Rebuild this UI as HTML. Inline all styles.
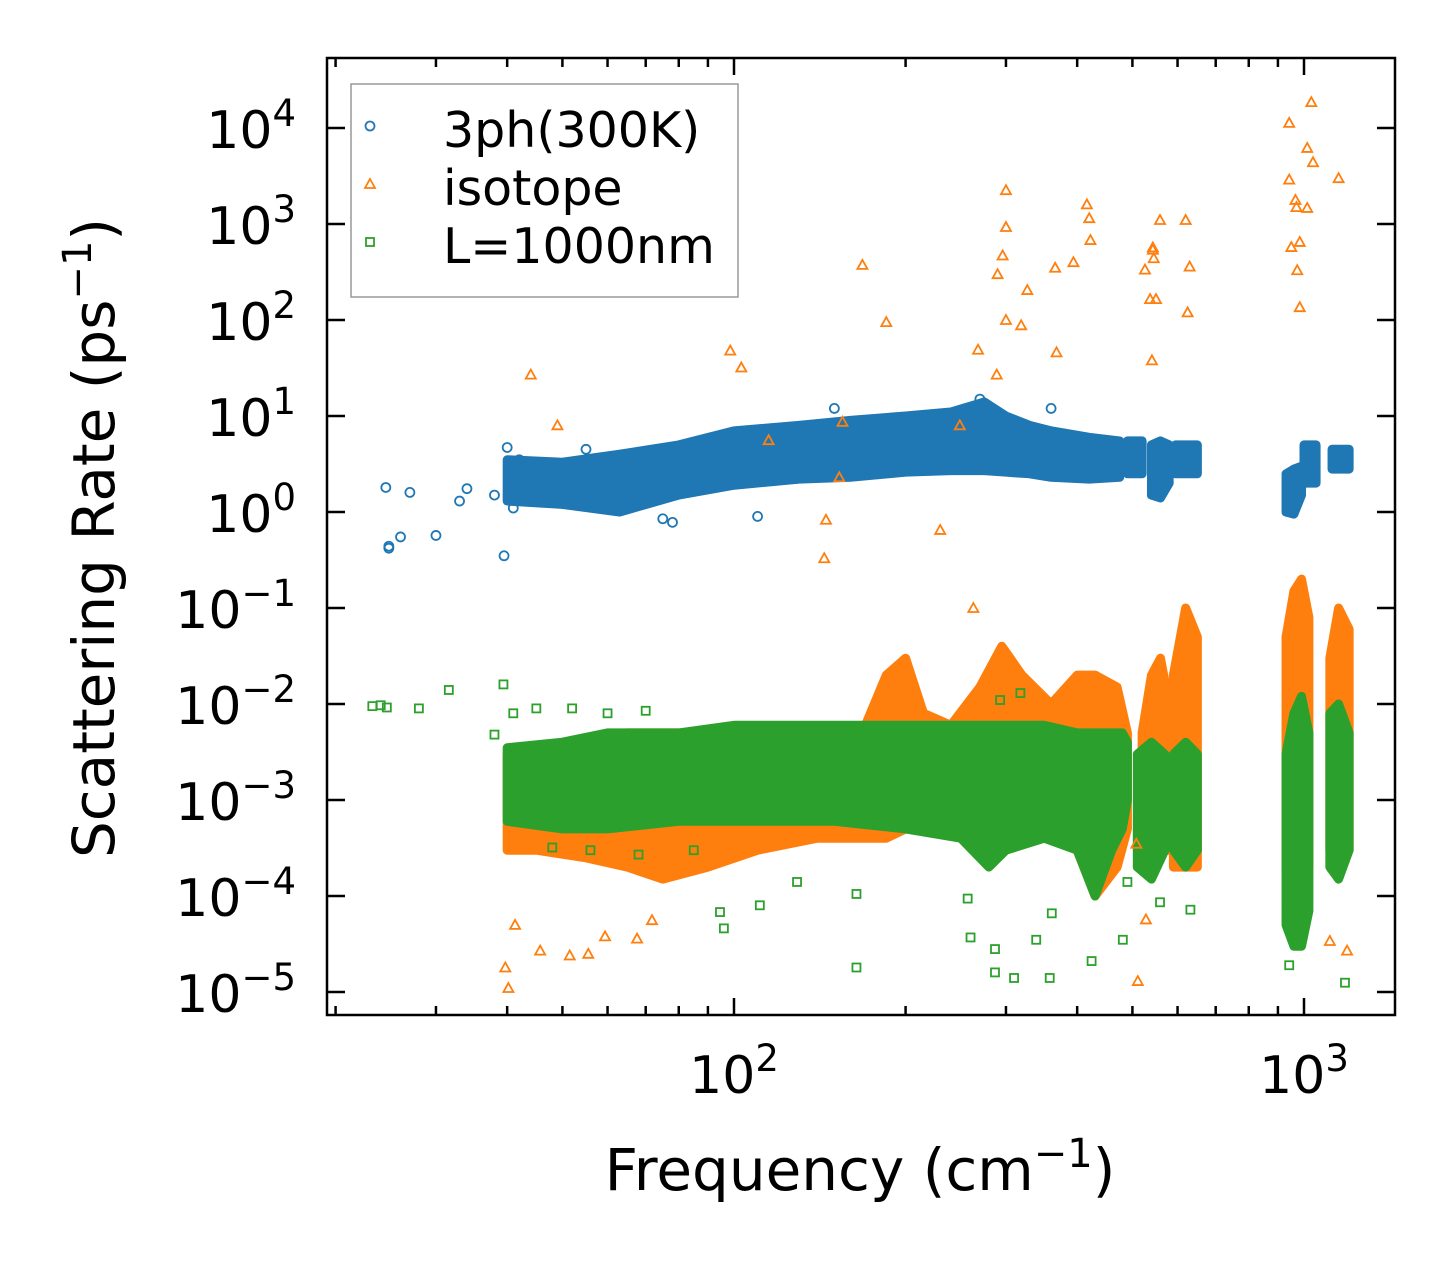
<!DOCTYPE html>
<html><head><meta charset="utf-8"><style>
html,body{margin:0;padding:0;background:#fff;}
svg text{font-family:"DejaVu Sans","Liberation Sans",sans-serif;}
</style></head><body>
<svg id="chart" width="1455" height="1265" viewBox="0 0 1455 1265" xmlns="http://www.w3.org/2000/svg">
<rect width="1455" height="1265" fill="#fff"/>
<defs><clipPath id="plotclip"><rect x="327" y="58" width="1068" height="957"/></clipPath></defs>
<g id="bands" clip-path="url(#plotclip)"></g>
<g id="points" clip-path="url(#plotclip)"></g>
<g id="axes"></g>
<text x="860" y="1190" font-size="58" text-anchor="middle">Frequency (cm<tspan font-size="40" dy="-23">−1</tspan><tspan dy="23">)</tspan></text>
<text transform="translate(114,538) rotate(-90)" font-size="58" text-anchor="middle">Scattering Rate (ps<tspan font-size="40" dy="-23">−1</tspan><tspan dy="23">)</tspan></text>
<g>
<rect x="351" y="84" width="387" height="213" fill="#fff" stroke="#999" stroke-width="1.5"/>
<circle cx="370" cy="126" r="4.5" fill="none" stroke="#1f77b4" stroke-width="1.8"/>
<text x="443" y="147" font-size="49">3ph(300K)</text>
<polygon points="370,179 375,188 365,188" fill="none" stroke="#ff7f0e" stroke-width="1.8"/>
<text x="443" y="205" font-size="49">isotope</text>
<rect x="366" y="238" width="8" height="8" fill="none" stroke="#2ca02c" stroke-width="1.8"/>
<text x="443" y="263" font-size="49">L=1000nm</text>
</g>
<script>
// ---- data ----
const xTickValues=[100,1000];
const xTickLabels=["2","3"];
const yTickExps=[4,3,2,1,0,-1,-2,-3,-4,-5];
const yTickLabels=["4","3","2","1","0","−1","−2","−3","−4","−5"];
// dense clouds: [freqs, low values, high values]
const blueBands=[
 [[40,50,63,80,100,130,160,200,240,275,300,330,360,420,475],[1.3,1.2,1.0,1.5,1.9,2.2,2.3,2.6,2.7,2.7,2.6,2.5,2.3,2.2,2.3],[3.5,3.3,4,5,7,8,9,10,11,14,10,8,7,6,5.5]],
 [[490,520],[2.5,2.5],[5.5,5.5]],
 [[540,560,580],[1.5,1.4,2.0],[5,5.5,5]],
 [[595,650],[2.5,2.5],[5,5]],
 [[930,960,990],[1.0,0.95,1.5],[2.5,2.8,3]],
 [[1000,1050],[2,2],[5,5]],
 [[1120,1200],[2.8,2.8],[4.5,4.5]]
];
const orangeBands=[
 [[40,45,55,65,75,90,110,140,170,185,200,215,240,270,295,320,360,400,430,470,490],
  [3e-4,3e-4,2.5e-4,2e-4,1.5e-4,2e-4,3e-4,4e-4,4e-4,4e-4,5e-4,5e-4,5e-4,3e-4,3e-4,4e-4,5e-4,3e-4,1e-4,2e-4,5e-4],
  [3e-3,3e-3,4e-3,5e-3,5e-3,5e-3,5e-3,5e-3,6e-3,2e-2,3e-2,8e-3,6e-3,1.5e-2,4e-2,2e-2,1e-2,2e-2,2e-2,1.5e-2,5e-3]],
 [[520,540,560,580],[3e-4,3e-4,3e-4,3e-4],[5e-3,2e-2,3e-2,1e-2]],
 [[590,620,650],[2e-4,2e-4,2e-4],[2e-2,0.1,0.05]],
 [[930,960,990,1020],[2e-4,2e-4,2e-4,2e-4],[0.05,0.15,0.2,0.08]],
 [[1110,1150,1200],[3e-4,3e-4,3e-4],[0.03,0.1,0.06]]
];
const greenBands=[
 [[40,50,60,80,100,150,200,250,280,300,350,400,430,460,480,490],
  [6e-4,5e-4,5e-4,6e-4,6e-4,6e-4,5e-4,4e-4,2e-4,3e-4,4e-4,3e-4,1e-4,3e-4,5e-4,1e-3],
  [3.5e-3,4e-3,5e-3,5e-3,6e-3,6e-3,6e-3,6e-3,6e-3,6e-3,6e-3,5e-3,5e-3,5e-3,5e-3,4e-3]],
 [[510,540,570],[2e-4,1.5e-4,3e-4],[3e-3,4e-3,3e-3]],
 [[590,620,650],[3e-4,2e-4,3e-4],[3e-3,4e-3,3e-3]],
 [[930,960,990,1020],[5e-5,3e-5,3e-5,7e-5],[3e-3,8e-3,1.2e-2,5e-3]],
 [[1110,1150,1200],[2e-4,1.5e-4,3e-4],[8e-3,1e-2,5e-3]]
];
// scattered points
const blueFreq=[24.5,24.8,24.8,26,27,30,33,34,38,39.5,40,41,42,55,78,75,150,110,360,270];
const blueRate=[1.8,0.42,0.44,0.55,1.6,0.57,1.3,1.75,1.5,0.35,4.7,1.1,3.5,4.5,0.78,0.85,12,0.9,12,15];
const orangeFreq=[44,49,98.5,103,115,145,144,153,155,168,185,230,249,263,268,289,300,300,296,290,300,319,327,366,368,394,416,420,422,526,537,541,543,543,545,550,559,620,630,625,942,942,950,966,970,973,983,983,1013,1030,1037,1013,1150,39.7,40.2,41.3,45.7,51.5,55.5,59.4,67.6,71.8,511,528,1110,1190,508];
const orangeRate=[27,8,48,32,5.6,0.83,0.33,2.3,8.7,375,95,0.65,8,0.1,49,27,2250,930,470,300,100,88,205,350,46,400,1600,1150,680,335,165,38,540,570,440,165,1100,1100,360,120,11300,2900,575,1780,1500,330,650,136,6200,18600,4400,1470,3000,1.8e-5,1.1e-5,5e-5,2.7e-5,2.4e-5,2.5e-5,3.8e-5,3.6e-5,5.6e-5,1.3e-5,5.7e-5,3.4e-5,2.7e-5,3.5e-4];
const greenFreq=[23.2,24,24.6,28,31.6,38,39.4,41,45,52,60,70,94.5,96,111,129,164,164,257,260,287,287,310,339,358,361,424,481,318,293,942,1180,983,559,632,490,68,56,48,85];
const greenRate=[9.5e-3,9.7e-3,9.2e-3,9e-3,1.4e-2,4.8e-3,1.6e-2,8e-3,9e-3,9e-3,8e-3,8.5e-3,6.8e-5,4.6e-5,8e-5,1.4e-4,1.05e-4,1.8e-5,9.4e-5,3.7e-5,2.8e-5,1.6e-5,1.4e-5,3.5e-5,1.4e-5,6.6e-5,2.1e-5,3.5e-5,1.3e-2,1.1e-2,1.9e-5,1.25e-5,3.4e-5,8.6e-5,7.2e-5,1.4e-4,2.7e-4,3e-4,3.2e-4,3e-4];

// ---- axes functions ----
const X=f=>734+570*Math.log10(f/100);
const Y=v=>128+96*(4-Math.log10(v));
const NS="http://www.w3.org/2000/svg";
function mk(tag,attrs,parent){const e=document.createElementNS(NS,tag);for(const k in attrs)e.setAttribute(k,attrs[k]);parent.appendChild(e);return e;}
const bandsG=document.getElementById('bands');
const ptsG=document.getElementById('points');
const axG=document.getElementById('axes');
const colors={blue:"#1f77b4",orange:"#ff7f0e",green:"#2ca02c"};

function drawBands(bands,color,name){
 bands.forEach((b,i)=>{
  const [f,lo,hi]=b;
  const pts=[];
  f.forEach((v,j)=>pts.push(X(v)+","+Y(hi[j])));
  for(let j=f.length-1;j>=0;j--)pts.push(X(f[j])+","+Y(lo[j]));
  const p=mk('polygon',{points:pts.join(' '),fill:color,stroke:color,'stroke-width':9,'stroke-linejoin':'round'},bandsG);
  
  
 });
}
function drawPoints(fs,vs,color,shape,name){
 fs.forEach((f,i)=>{
  const x=X(f),y=Y(vs[i]);let e;
  if(shape==='circle')e=mk('circle',{cx:x,cy:y,r:4.5},ptsG);
  else if(shape==='tri')e=mk('polygon',{points:`${x},${y-5} ${x+5},${y+4} ${x-5},${y+4}`},ptsG);
  else e=mk('rect',{x:x-4,y:y-4,width:8,height:8},ptsG);
  e.setAttribute('fill','none');e.setAttribute('stroke',color);e.setAttribute('stroke-width','1.8');
  
  
 });
}
drawBands(blueBands,colors.blue,'3ph');
drawPoints(blueFreq,blueRate,colors.blue,'circle','3ph');
drawBands(orangeBands,colors.orange,'isotope');
drawPoints(orangeFreq,orangeRate,colors.orange,'tri','isotope');
drawBands(greenBands,colors.green,'boundary');
drawPoints(greenFreq,greenRate,colors.green,'square','boundary');

// frame
const fr=mk('rect',{x:327,y:58,width:1068,height:957,fill:'none',stroke:'#000','stroke-width':2.5},axG);


// x ticks
for(let d=10;d<=1000;d*=10){for(let m=1;m<10;m++){const f=d*m;const x=X(f);if(x<328||x>1394)continue;
 const L=(m===1)?17:9;
 const t1=mk('line',{x1:x,y1:1015,x2:x,y2:1015-L,stroke:'#000','stroke-width':2.5},axG);
 
 
 const t2=mk('line',{x1:x,y1:58,x2:x,y2:58+L,stroke:'#000','stroke-width':2.5},axG);
 
 
}}
xTickValues.forEach((v,i)=>{
 const t=mk('text',{x:X(v),y:1093,'font-size':52,'text-anchor':'middle'},axG);
 t.textContent='10';
 const s=mk('tspan',{'font-size':37,dy:-22},t);s.textContent=xTickLabels[i];
 
 
});
yTickExps.forEach((e,i)=>{
 const y=Y(Math.pow(10,e));
 const a=mk('line',{x1:327,y1:y,x2:345,y2:y,stroke:'#000','stroke-width':2.5},axG);
 
 
 const b=mk('line',{x1:1395,y1:y,x2:1377,y2:y,stroke:'#000','stroke-width':2.5},axG);
 
 
 const lab=yTickLabels[i];
 const t=mk('text',{x:296,y:y+20,'font-size':52,'text-anchor':'end'},axG);
 t.textContent='10';
 const s=mk('tspan',{'font-size':37,dy:-22},t);s.textContent=lab;
 
 
});
</script>
</svg>
</body></html>
